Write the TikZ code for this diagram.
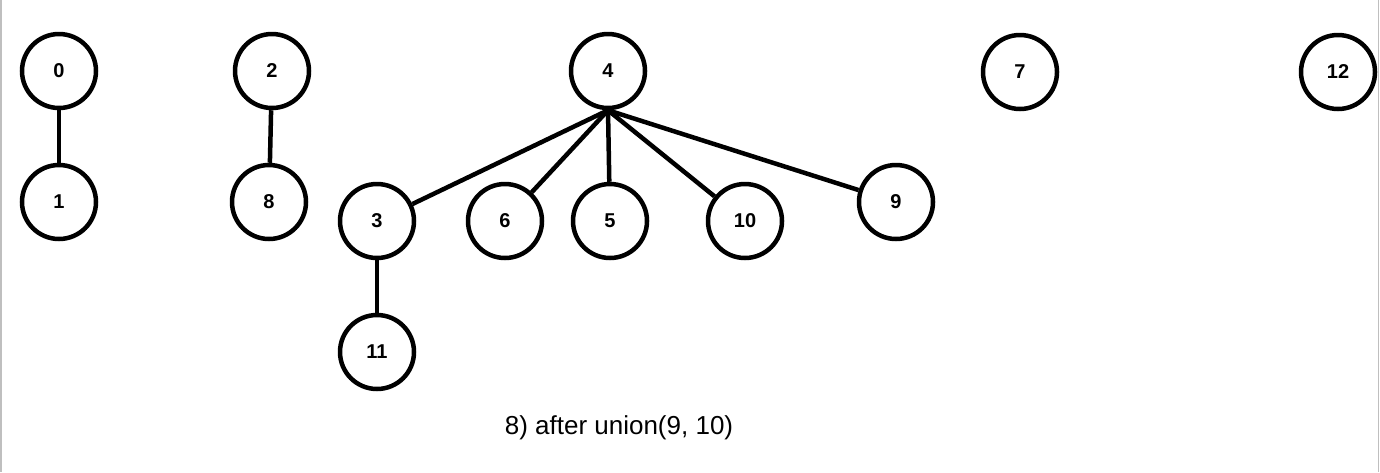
\documentclass[tikz,border=0pt]{standalone}
\usepackage{fontspec}
\setmainfont{Liberation Sans}
\usepackage{tikz}
\usetikzlibrary{positioning}

\begin{document}
\begin{tikzpicture}[
                x=1pt, y=-1pt,
                vertex/.style={draw, circle, line width=4.5pt, minimum size=74pt,
                        inner sep=0pt, font=\fontsize{20}{22}\selectfont\bfseries},
                caption/.style={font=\fontsize{26}{28}\selectfont},
                edge/.style={line width=4.5pt},
            ]
            \useasboundingbox (0,0) rectangle (1380,472);
            \draw[gray!50, line width=1.5pt] (1,0) -- (1,472);
            \draw[gray!50, line width=1.5pt] (1378.5,0) -- (1378.5,472);

            \node[vertex] (n0) at (59,71) {0};
            \node[vertex] (n1) at (59,202) {1};
            \node[vertex] (n2) at (272,71) {2};
            \node[vertex] (n8) at (269,202) {8};
            \node[vertex] (n4) at (608,71) {4};
            \node[vertex] (n3) at (377,221) {3};
            \node[vertex] (n6) at (505,221) {6};
            \node[vertex] (n5) at (610,221) {5};
            \node[vertex] (n10) at (745,221) {10};
            \node[vertex] (n9) at (896,202) {9};
            \node[vertex] (n11) at (377,352) {11};
            \node[vertex] (n7) at (1020,72) {7};
            \node[vertex] (n12) at (1338,72) {12};

            \node[caption] (label) at (619,428) {8) after union(9, 10)};

            \draw[edge] (n0) -- (n1);
            \draw[edge] (n2) -- (n8);
            \draw[edge] (n3) -- (n11);
            \draw[edge] (n4.south) -- (n3);
            \draw[edge] (n4.south) -- (n6);
            \draw[edge] (n4.south) -- (n5);
            \draw[edge] (n4.south) -- (n10);
            \draw[edge] (n4.south) -- (n9);
        \end{tikzpicture}
\end{document}
